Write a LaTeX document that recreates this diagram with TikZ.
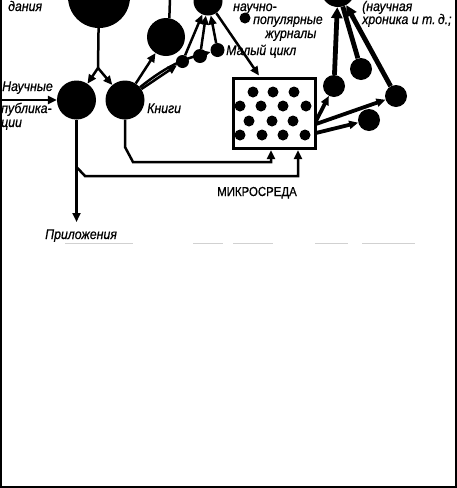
\documentclass[tikz,border=0pt]{standalone}
\usepackage{fontspec}
\setmainfont{Liberation Sans}
\newfontfamily\hw[FakeStretch=0.88,FakeBold=0.6]{Liberation Sans}
\usetikzlibrary{arrows.meta}
\begin{document}
\begin{tikzpicture}[x=1pt,y=-1pt,
  blob/.style={circle,fill=black,inner sep=0pt,minimum size=#1},
  lbl/.style={anchor=base west,inner sep=0pt,font=\hw\itshape\fontsize{14}{16}\selectfont},
  wire/.style={line width=2.5pt},
  heavy/.style={line width=4.8pt},
  mid/.style={line width=3.8pt},
  tip/.style={-{Triangle[length=9pt,width=8pt]}},
  bigtip/.style={-{Triangle[length=11pt,width=11pt]}},
  faint/.style={line width=0.7pt,black!18}]
\useasboundingbox (0,0) rectangle (457,488);
\clip (0,0) rectangle (457,488);
% circles
\node[blob=62pt] (big) at (99,-3) {};
\node[blob=39pt] (pub) at (76.5,100) {};
\node[blob=39pt] (kn) at (125,100) {};
\node[blob=38pt] (med) at (166,37) {};
\node[blob=29pt] (top) at (208,1) {};
\node[blob=13pt] (s1) at (182.5,61.5) {};
\node[blob=14pt] (s2) at (200,56) {};
\node[blob=14pt] (s3) at (217.5,50) {};
\node[blob=11pt] (bul) at (245,18) {};
\node[draw,line width=3pt,minimum width=82pt,minimum height=70pt,inner sep=0pt] (micro) at (274.5,113.5) {};
\node[blob=34pt] (hub) at (338,-10) {};
\node[blob=22pt] (A) at (334,86) {};
\node[blob=22pt] (B) at (361,69) {};
\node[blob=22pt] (C) at (396,96) {};
\node[blob=22pt] (D) at (369,120) {};
% dots of the micro-environment
\foreach \px/\py in {253/92,273/92,294/92,240/106,261/106,283/106,306/106,249/121,272/121,293/121,240/135,262/135,283/135,305/135}
  \fill (\px,\py) circle (5.5);
% labels
\node[lbl] (t1) at (8,11) {дания};
\node[lbl] (t2) at (2,91) {Научные};
\node[lbl] (t3) at (1,113) {публика-};
\node[lbl] (t4) at (1,127) {ции};
\node[lbl] (t5) at (147,113) {Книги};
\node[lbl] (t6) at (233,11) {научно-};
\node[lbl] (t7) at (253,24) {популярные};
\node[lbl] (t8) at (265,38) {журналы};
\node[lbl] (t9) at (226,55) {Малый цикл};
\node[lbl] (t10) at (362,11) {(научная};
\node[lbl] (t11) at (362,24) {хроника и т.\,д.;};
\node[lbl] (t12) at (45,239) {Приложения};
\node[anchor=base west,inner sep=0pt,font=\hw\fontsize{13}{15}\selectfont] (t13) at (217,196) {МИКРОСРЕДА};
% connectors, left part
\coordinate (fork) at (98,68);
\draw[wire] (big) -- (fork);
\draw[wire,tip] (fork) -- (pub);
\draw[wire,tip] (fork) -- (kn);
\coordinate (inL) at (0,100);
\draw[wire,tip] (inL) -- (pub);
\draw[wire,tip] (kn) -- (med);
\draw[wire,tip] (kn) -- (s1);
\draw[wire,tip] (kn) to[bend left=12] (s3);
\draw[wire,tip] (s1) -- (top);
\draw[wire,tip] (s2) -- (top);
\draw[wire,tip] (s3) -- (top);
\coordinate (medup) at (170,-2);
\draw[wire] (med.80) -- (medup);
\coordinate (boxin) at (259,75.5);
\draw[wire,tip] (top) -- (boxin);
% right part
\draw[heavy,bigtip] (A) -- (hub);
\draw[heavy] (B) -- (hub);
\draw[heavy,bigtip] (C) -- (hub);
\coordinate (o1) at (316,121);
\coordinate (o2) at (316,124);
\coordinate (o3) at (316,133);
\draw[mid,tip] (o1) -- (A);
\draw[mid,tip] (o2) -- (C);
\draw[mid,tip] (o3) -- (D);
% bottom part
\coordinate (k1) at (125,147);
\coordinate (k2) at (133,162);
\coordinate (k3) at (271,162);
\coordinate (k4) at (271,150);
\draw[wire,tip] (kn) -- (k1) -- (k2) -- (k3) -- (k4);
\coordinate (pend) at (76.5,222);
\draw[wire,tip] (pub) -- (pend);
\coordinate (j1) at (76.5,167);
\coordinate (j2) at (85,176);
\coordinate (j3) at (298,176);
\coordinate (j4) at (298,150);
\draw[wire,tip] (j1) -- (j2) -- (j3) -- (j4);
% faint scan traces
\draw[faint] (65,243) -- (133,243) (193,243) -- (223,243) (233,243) -- (273,243) (315,243) -- (348,243) (362,243) -- (415,243);
% frame
\draw[line width=2pt] (1,-5) -- (1,487) -- (456,487) -- (456,-5);
\end{tikzpicture}
\end{document}
